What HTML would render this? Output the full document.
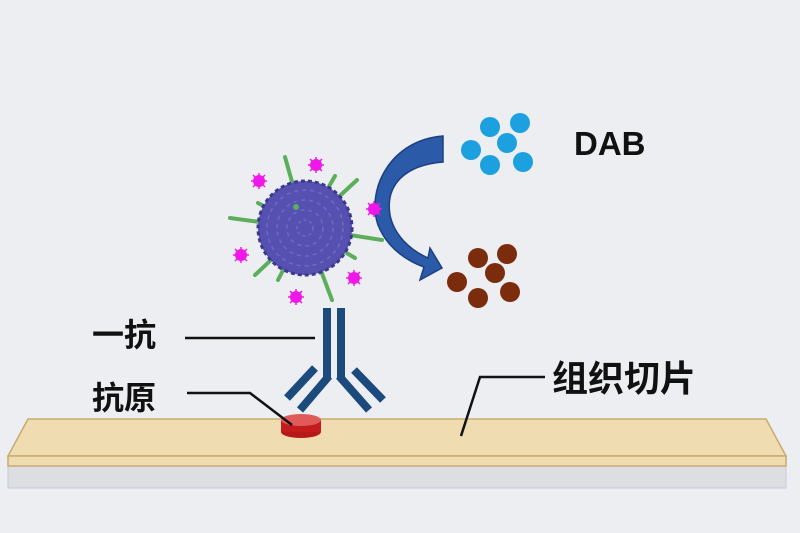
<!DOCTYPE html>
<html><head><meta charset="utf-8"><style>
html,body{margin:0;padding:0;background:#eceef1;}
svg{display:block}
text{font-family:"Liberation Sans","Noto Sans CJK SC",sans-serif;font-weight:bold;fill:#111}
</style></head><body>
<svg width="800" height="533" viewBox="0 0 800 533">
<rect width="800" height="533" fill="#eceef1"/>
<rect x="8" y="466" width="778" height="22" fill="#dcdee2" stroke="#c5cbd6" stroke-width="1"/>
<polygon points="28,419 766,419 786,456 8,456" fill="#efdcb0" stroke="#c8ab70" stroke-width="1.5"/>
<rect x="8" y="456" width="778" height="10" fill="#efdcb0" stroke="#c8ab70" stroke-width="1.5"/>
<ellipse cx="301" cy="432" rx="20" ry="6" fill="#b81818"/>
<rect x="281" y="420" width="40" height="12" fill="#c41c1c"/>
<ellipse cx="301" cy="420" rx="20" ry="6" fill="#e05a5a"/>
<g stroke="#1c4a7c" stroke-width="8" fill="none" stroke-linecap="butt">
<line x1="327" y1="308" x2="327" y2="378"/>
<line x1="341" y1="308" x2="341" y2="378"/>
<line x1="329" y1="376" x2="300" y2="410"/>
<line x1="315" y1="368" x2="287" y2="398"/>
<line x1="339" y1="376" x2="369" y2="410"/>
<line x1="354" y1="370" x2="383" y2="400"/>
</g>
<g stroke="#111" stroke-width="2.5" fill="none">
<line x1="185" y1="338" x2="315" y2="338"/>
<polyline points="187,393 250,393 292,425"/>
<polyline points="545,377 480,377 461,436"/>
</g>
<text x="92" y="346" font-size="32">一抗</text>
<text x="92" y="409" font-size="32">抗原</text>
<text x="552" y="391" font-size="36">组织切片</text>
<text x="574" y="155" font-size="33">DAB</text>
<g fill="#1da0e0">
<circle cx="471" cy="150" r="10"/><circle cx="490" cy="127" r="10"/><circle cx="520" cy="123" r="10"/>
<circle cx="507" cy="143" r="10"/><circle cx="490" cy="165" r="10"/><circle cx="523" cy="162" r="10"/>
</g>
<g fill="#7a2c0c">
<circle cx="457" cy="282" r="10"/><circle cx="478" cy="258" r="10"/><circle cx="507" cy="254" r="10"/>
<circle cx="495" cy="273" r="10"/><circle cx="478" cy="298" r="10"/><circle cx="510" cy="292" r="10"/>
</g>
<path d="M443,136 C390,140 366,190 378,225 C388,250 410,262 424,267 L420,280 L442,268 L430,248 L428,258 C410,250 394,235 390,215 C385,185 405,165 443,162 Z" fill="#2a5aa8" stroke="#1c3f80" stroke-width="1.5"/>
<g stroke="#5cae5a" stroke-width="4" stroke-linecap="round">
<line x1="305" y1="228" x2="285" y2="157"/><line x1="305" y1="228" x2="335" y2="176"/>
<line x1="305" y1="228" x2="357" y2="180"/><line x1="305" y1="228" x2="230" y2="218"/>
<line x1="305" y1="228" x2="382" y2="240"/><line x1="305" y1="228" x2="255" y2="275"/>
<line x1="305" y1="228" x2="278" y2="280"/><line x1="305" y1="228" x2="332" y2="300"/>
<line x1="305" y1="228" x2="355" y2="258"/><line x1="305" y1="228" x2="258" y2="203"/>
</g>
<circle cx="305" cy="228" r="47" fill="#5650b0"/>
<circle cx="305" cy="228" r="47" fill="none" stroke="#3c3890" stroke-width="3" stroke-dasharray="4 3"/>
<g fill="none" stroke="#7a74d0" stroke-width="1.5" opacity="0.7">
<circle cx="305" cy="228" r="38" stroke-dasharray="4 4"/><circle cx="305" cy="228" r="28" stroke-dasharray="4 4"/>
<circle cx="305" cy="228" r="18" stroke-dasharray="4 4"/><circle cx="305" cy="228" r="8" stroke-dasharray="3 3"/>
</g>
<circle cx="296" cy="207" r="3" fill="#5cae5a"/>
<g fill="#f018e8">
<circle cx="259" cy="181" r="6"/><circle cx="316" cy="165" r="6"/><circle cx="374" cy="209" r="6"/>
<circle cx="241" cy="255" r="6"/><circle cx="296" cy="297" r="6"/><circle cx="354" cy="278" r="6"/>
</g>
<g stroke="#f018e8" stroke-width="1.5">
<path d="M251,181h16M259,173v16M253,175l12,12M265,175l-12,12"/>
<path d="M308,165h16M316,157v16M310,159l12,12M322,159l-12,12"/>
<path d="M366,209h16M374,201v16M368,203l12,12M380,203l-12,12"/>
<path d="M233,255h16M241,247v16M235,249l12,12M247,249l-12,12"/>
<path d="M288,297h16M296,289v16M290,291l12,12M302,291l-12,12"/>
<path d="M346,278h16M354,270v16M348,272l12,12M360,272l-12,12"/>
</g>
</svg>
</body></html>
